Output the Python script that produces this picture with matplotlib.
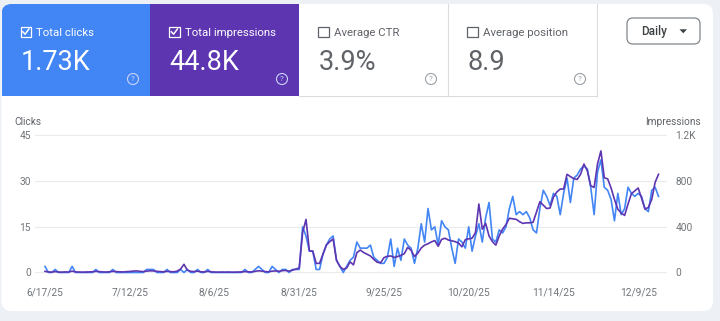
import matplotlib
matplotlib.use('Agg')
import pandas as pd
import matplotlib.pyplot as plt
from matplotlib.patches import FancyBboxPatch, Rectangle, Circle, Polygon

plt.rcParams['font.family'] = ['Roboto', 'DejaVu Sans']

# daily values, starting 6/17/25
start_date = '2025-06-17'
clicks = [2, 0, 0, 1, 0, 0, 0, 0, 2, 0,
          0, 0, 0, 0, 0, 1, 0, 0, 0, 0,
          1, 0, 0, 0, 0, 0, 0, 0, 0, 0,
          1, 1, 1, 0, 0, 0, 1, 0, 0, 0,
          1, 0, 1, 0, 0, 1, 0, 0, 1, 0,
          0, 0, 0, 0, 0, 0, 0, 0, 0, 1,
          0, 0, 1, 2, 1, 0, 0, 2, 1, 0,
          1, 1, 0, 1,
          1, 1, 15, 12, 7, 7, 1, 1, 6, 9, 11, 12, 4, 2, 0, 2, 4, 5, 10,
          8, 8, 8, 9, 5, 4, 3, 3, 5, 11,
          2, 8, 4, 11, 9, 8, 3, 8, 16, 10,
          21, 14, 15, 9, 17, 15, 14, 8, 3, 11,
          10, 8, 15, 7, 12, 16, 10, 18, 23, 11,
          10, 14, 13, 15, 21, 25, 19, 20, 19, 20,
          18, 14, 13, 21, 27, 25, 22, 26, 25, 19,
          26, 31, 23, 31, 32, 34, 35, 34, 28, 19,
          33, 37, 28, 27, 24, 17, 26, 19, 21, 28,
          26, 25, 26, 25, 21, 20, 27, 28, 25]
impressions = [10, 5, 3, 8, 4, 3, 5, 4, 12, 5,
               4, 3, 4, 5, 6, 10, 8, 5, 4, 6,
               10, 8, 6, 5, 7, 9, 12, 14, 10, 8,
               12, 15, 14, 10, 8, 6, 10, 8, 6, 12,
               30, 72, 20, 10, 8, 12, 6, 5, 10, 6,
               4, 3, 4, 3, 4, 3, 3, 4, 5, 8,
               6, 5, 10, 15, 12, 8, 6, 12, 14, 10,
               16, 18, 12, 20,
               30, 40, 350, 465, 190, 187, 80, 80, 160, 240, 270, 293, 107, 53, 27, 40, 93, 67, 173,
               197, 175, 160, 145, 115, 90, 85, 130, 142, 145,
               132, 140, 150, 165, 220, 195, 140, 170, 215, 240,
               252, 268, 280, 230, 290, 300, 284, 278, 270, 258,
               225, 288, 295, 300, 350, 600, 380, 430, 320, 270,
               240, 320, 380, 420, 475, 470, 466, 445, 430, 435,
               435, 440, 530, 620, 590, 560, 565, 660, 705, 731,
               731, 860, 840, 822, 815, 860, 950, 890, 760, 745,
               950, 1065, 830, 820, 740, 640, 555, 520, 500, 600,
               690, 715, 740, 650, 555, 570, 640, 790, 860]

tick_dates = ['2025-06-17', '2025-07-12', '2025-08-06', '2025-08-31',
              '2025-09-25', '2025-10-20', '2025-11-14', '2025-12-09']
tick_labels = ['6/17/25', '7/12/25', '8/6/25', '8/31/25',
               '9/25/25', '10/20/25', '11/14/25', '12/9/25']
click_ticks = [0, 15, 30, 45]
impr_ticks = [0, 400, 800, 1200]
impr_labels = ['0', '400', '800', '1.2K']

tile_names = ['Total clicks', 'Total impressions', 'Average CTR', 'Average position']
tile_values = ['1.73K', '44.8K', '3.9%', '8.9']

dates = pd.date_range(start_date, periods=len(clicks))

fig = plt.figure(figsize=(7.2, 3.21), dpi=100, facecolor='#edf0f4')

# background layer in pixel coordinates
bg = fig.add_axes([0, 0, 1, 1])
bg.set_xlim(0, 720)
bg.set_ylim(321, 0)
bg.axis('off')

card = FancyBboxPatch((1.5, 4), 711.5, 307, boxstyle='round,pad=0,rounding_size=10',
                      fc='white', ec='none')
bg.add_patch(card)

tile_x = [1.5, 150, 299, 448]
tile_w = [148.5, 149, 149, 149]
tile_fill = ['#4285f4', '#5e35b1', None, None]
for i in range(4):
    x0 = tile_x[i]
    if tile_fill[i]:
        r = Rectangle((x0, 4), tile_w[i], 92, fc=tile_fill[i], ec='none')
        bg.add_patch(r)
        r.set_clip_path(card)
        fg, sub, icon = 'white', 'white', '#c9d4f7'
    else:
        fg, sub, icon = '#5f6368', '#5f6368', '#9aa0a6'
    cx = x0 + 19
    # checkbox
    bg.add_patch(Rectangle((cx, 26.5), 10.5, 10.5, fill=False, ec=sub, lw=0.9))
    if tile_fill[i]:
        bg.plot([cx + 2.3, cx + 4.6, cx + 8.4], [31.8, 34.2, 29.0], color='white', lw=1.1)
    bg.text(cx + 16, 35.5, tile_names[i], fontsize=8.2, color=sub, va='baseline')
    bg.text(cx + 0.5, 70, tile_values[i], fontsize=19.5, color=fg, va='baseline')
    # help icon
    qx = x0 + tile_w[i] - 17
    bg.add_patch(Circle((qx, 79), 5.5, fill=False, ec=icon, lw=0.8))
    bg.text(qx, 79.3, '?', fontsize=5.8, color=icon, ha='center', va='center')

# borders of the white tiles
bg.plot([448, 448], [4, 96], color='#dadce0', lw=0.8)
bg.plot([597, 597], [4, 96], color='#dadce0', lw=0.8)
bg.plot([299, 597], [96, 96], color='#dadce0', lw=0.8)

# Daily dropdown
bg.add_patch(FancyBboxPatch((627, 18), 73, 26, boxstyle='round,pad=0,rounding_size=6',
                            fc='white', ec='#80868b', lw=0.9))
bg.text(641, 35.2, 'Daily', fontsize=8.5, color='#3c4043', fontweight='medium', va='baseline')
bg.add_patch(Polygon([(679.5, 29.3), (687, 29.3), (683.25, 33.3)], closed=True,
                     fc='#3c4043', ec='none'))

bg.text(14, 125, 'Clicks', fontsize=7.3, color='#5f6368', va='baseline')
bg.text(701, 125, 'Impressions', fontsize=7.3, color='#5f6368', va='baseline', ha='right')

# chart
ax = fig.add_axes([35 / 720, 1 - 276 / 321, 632 / 720, 143 / 321])
ax.patch.set_alpha(0)
ax2 = ax.twinx()

ax.plot(dates, clicks, color='#4285f4', lw=1.2)
ax2.plot(dates, impressions, color='#5e35b1', lw=1.2)

ymin, ymax = -1.15, 45.82
ax.set_ylim(ymin, ymax)
ax2.set_ylim(ymin * 1200 / 45, ymax * 1200 / 45)
ax.set_xlim(dates[0] - pd.Timedelta(days=2.95), dates[0] + pd.Timedelta(days=183.5))

ax.set_yticks(click_ticks)
ax.set_yticklabels([str(t) for t in click_ticks])
ax2.set_yticks(impr_ticks)
ax2.set_yticklabels(impr_labels)
ax.set_xticks(pd.to_datetime(tick_dates))
ax.set_xticklabels(tick_labels)

ax.yaxis.grid(True, color='#ebebeb', lw=0.8)
ax.set_axisbelow(True)
for a in (ax, ax2):
    for s in a.spines.values():
        s.set_visible(False)
ax.tick_params(axis='x', length=0, labelsize=7.3, labelcolor='#70757a', pad=8)
ax.tick_params(axis='y', length=0, labelsize=7.3, labelcolor='#70757a', pad=3)
ax2.tick_params(axis='y', length=0, labelsize=7.3, labelcolor='#70757a', pad=6)

fig.savefig('out.png', dpi=100, facecolor=fig.get_facecolor())
